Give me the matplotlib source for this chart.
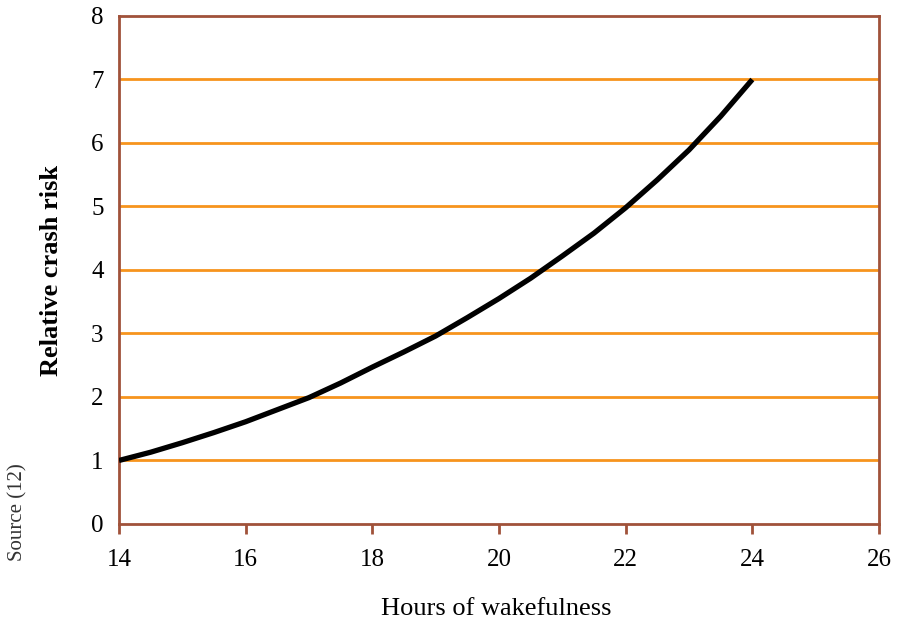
import matplotlib
matplotlib.use("Agg")
import matplotlib.pyplot as plt

# Hours of wakefulness vs relative crash risk
hours = [14, 14.5, 15, 15.5, 16, 16.5, 17, 17.5, 18, 18.5, 19, 19.5,
         20, 20.5, 21, 21.5, 22, 22.5, 23, 23.5, 24]
risk = [1.00, 1.13, 1.28, 1.44, 1.61, 1.80, 1.99, 2.22, 2.47, 2.71, 2.96, 3.25,
        3.55, 3.87, 4.22, 4.58, 4.98, 5.42, 5.89, 6.42, 7.00]
xticks = [14, 16, 18, 20, 22, 24, 26]
yticks = [0, 1, 2, 3, 4, 5, 6, 7, 8]

BROWN = "#A0523A"
ORANGE = "#F7941D"
plt.rcParams["font.family"] = ["Liberation Serif", "DejaVu Serif"]

fig = plt.figure(figsize=(9.02, 6.22), dpi=100)
ax = fig.add_axes([0.1319, 0.1576, 0.8426, 0.8167])

for y in yticks[1:-1]:
    ax.axhline(y, color=ORANGE, lw=2, zorder=1)
ax.plot(hours, risk, color="black", lw=3.8, solid_capstyle="butt",
        solid_joinstyle="round", zorder=3)

ax.set_xlim(14, 26)
ax.set_ylim(0, 8)
ax.set_xticks(xticks)
ax.set_yticks(yticks)
for s in ax.spines.values():
    s.set_color(BROWN)
    s.set_linewidth(2)
ax.tick_params(axis="x", direction="out", length=7.2, width=2, color=BROWN,
               labelsize=18, pad=11)
ax.tick_params(axis="y", length=0, labelsize=18, pad=11)

ax.set_xlabel("Hours of wakefulness", fontsize=19)
ax.xaxis.set_label_coords(0.496, -0.146)
ax.set_ylabel("Relative crash risk", fontsize=19, fontweight="bold")
ax.yaxis.set_label_coords(-0.074, 0.5)
fig.text(0.02, 0.177, "Source (12)", rotation=90, fontsize=15,
         ha="center", va="center", color="#333333")

fig.savefig("out.png", dpi=100)
